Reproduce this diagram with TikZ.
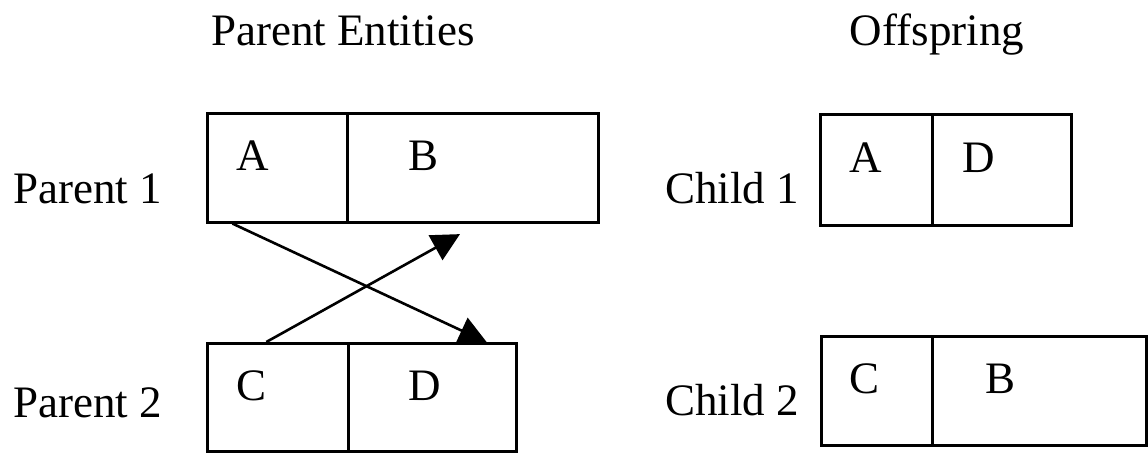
\documentclass[tikz,border=0pt]{standalone}
\usepackage{fontspec}
\setmainfont{Liberation Serif}
\usetikzlibrary{arrows.meta,calc}

\tikzset{
  lbl/.style={inner sep=0pt, font=\fontsize{45}{50}\selectfont},
  cell/.style={draw, line width=2.6pt, inner sep=0pt, anchor=north west},
  swap/.style={line width=2.6pt, -{Triangle[length=28pt,width=28pt]}, shorten >=-1pt}
}

\begin{document}
\begin{tikzpicture}[x=1pt,y=-1pt]
\useasboundingbox (0,0) rectangle (1148,456);

% headings
\node[lbl, anchor=base] (hpar) at (343,45) {Parent Entities};
\node[lbl, anchor=base] (hoff) at (937,45) {Offspring};

% row labels
\node[lbl, anchor=base west] (lp1) at (13,203) {Parent 1};
\node[lbl, anchor=base west] (lp2) at (13,417) {Parent 2};
\node[lbl, anchor=base west] (lc1) at (665,203) {Child 1};
\node[lbl, anchor=base west] (lc2) at (665,415) {Child 2};

% parent 1
\node[cell, minimum width=140pt, minimum height=109pt] (p1A) at (206,112) {};
\node[cell, minimum width=251pt, minimum height=109pt] (p1B) at (346,112) {};
% parent 2
\node[cell, minimum width=141pt, minimum height=108pt] (p2C) at (206,342) {};
\node[cell, minimum width=168pt, minimum height=108pt] (p2D) at (347,342) {};
% child 1
\node[cell, minimum width=112pt, minimum height=111pt] (c1A) at (819,113) {};
\node[cell, minimum width=139pt, minimum height=111pt] (c1D) at (931,113) {};
% child 2
\node[cell, minimum width=111pt, minimum height=109pt] (c2C) at (820,335) {};
\node[cell, minimum width=214pt, minimum height=109pt] (c2B) at (931,335) {};

% segment letters
\node[lbl, anchor=base] (tp1A) at (253,170) {A};
\node[lbl, anchor=base] (tp1B) at (424,170) {B};
\node[lbl, anchor=base] (tp2C) at (252,400) {C};
\node[lbl, anchor=base] (tp2D) at (425,400) {D};
\node[lbl, anchor=base] (tc1A) at (866,172) {A};
\node[lbl, anchor=base] (tc1D) at (979,172) {D};
\node[lbl, anchor=base] (tc2C) at (864,393) {C};
\node[lbl, anchor=base] (tc2B) at (1000,393) {B};

% crossover arrows
\coordinate (aOut) at ($(p1A.south west)!0.186!(p1A.south east)$);
\coordinate (dIn)  at ($(p2D.north west)!0.815!(p2D.north east)$);
\coordinate (cOut) at ($(p2C.north west)!0.42!(p2C.north east)$);
\coordinate (bIn)  at ($(p1B.south west)!0.446!(p1B.south east)+(0,11)$);
\draw[swap] (aOut) -- (dIn);
\draw[swap] (cOut) -- (bIn);
\end{tikzpicture}
\end{document}
